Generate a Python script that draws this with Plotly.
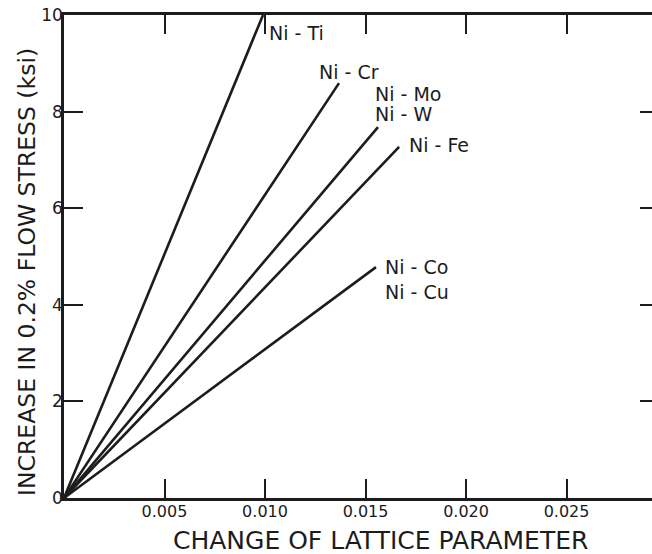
import plotly.graph_objects as go

# Data: each alloy line starts at origin and ends at (x_end, y_end)
alloys = ["Ni-Ti", "Ni-Cr", "Ni-Mo/W", "Ni-Fe", "Ni-Co/Cu"]
x_start = [0.0, 0.0, 0.0, 0.0, 0.0]
y_start = [0.0, 0.0, 0.0, 0.0, 0.0]
x_end = [0.0099, 0.01368, 0.01562, 0.01667, 0.01552]
y_end = [10.0, 8.59, 7.68, 7.27, 4.78]

label_text = ["Ni-Ti", "Ni-Cr", "Ni-Mo", "Ni-W", "Ni-Fe", "Ni-Co", "Ni-Cu"]
label_x = [0.0101, 0.01259, 0.01537, 0.01537, 0.01706, 0.01587, 0.01587]
label_y = [9.63, 8.82, 8.36, 7.95, 7.31, 4.78, 4.27]

x_ticks = [0.005, 0.010, 0.015, 0.020, 0.025]
x_tick_text = ["0.005", "0.010", "0.015", "0.020", "0.025"]
y_ticks = [0, 2, 4, 6, 8, 10]

x_title = "CHANGE OF LATTICE PARAMETER"
y_title = "INCREASE IN 0.2% FLOW STRESS (ksi)"

ink = "#1c1c1c"
font_family = "DejaVu Sans, Liberation Sans, sans-serif"

fig = go.Figure()
for name, x0, y0, x1, y1 in zip(alloys, x_start, y_start, x_end, y_end):
    fig.add_trace(go.Scatter(x=[x0, x1], y=[y0, y1], mode="lines",
                             line=dict(color=ink, width=2.6), name=name,
                             showlegend=False, hoverinfo="skip"))

# invisible trace for right axis ticks
fig.add_trace(go.Scatter(x=[0], y=[0], yaxis="y2", mode="markers",
                         marker=dict(opacity=0), showlegend=False, hoverinfo="skip"))

for t, x, y in zip(label_text, label_x, label_y):
    fig.add_annotation(x=x, y=y, text=t.replace("-", " - "), showarrow=False,
                       xanchor="left", yanchor="middle",
                       font=dict(family=font_family, size=19, color=ink))

# axis titles as annotations for exact placement
fig.add_annotation(xref="paper", yref="paper", x=0.538, y=-0.087,
                   text=x_title, showarrow=False, xanchor="center", yanchor="middle",
                   font=dict(family=font_family, size=25, color=ink))
fig.add_annotation(xref="paper", yref="paper", x=-0.063, y=0.468,
                   text=y_title, showarrow=False, textangle=-90,
                   xanchor="center", yanchor="middle",
                   font=dict(family=font_family, size=23.5, color=ink))

fig.update_layout(
    width=652, height=554,
    margin=dict(l=64, r=0, t=15, b=56),
    paper_bgcolor="white", plot_bgcolor="white",
    font=dict(family=font_family, color=ink),
    xaxis=dict(range=[0, 0.02925], tickvals=x_ticks, ticktext=x_tick_text,
               automargin=False, ticklabeloverflow="allow",
               showgrid=False, zeroline=False, showline=True, linecolor=ink,
               linewidth=2.5, mirror="ticks", ticks="inside", ticklen=19,
               tickwidth=1.5, tickcolor=ink, ticklabelstandoff=-3,
               tickfont=dict(size=16, color=ink)),
    yaxis=dict(range=[0, 10], tickvals=y_ticks, showgrid=False, zeroline=False,
               automargin=False, ticklabeloverflow="allow",
               showline=True, linecolor=ink, linewidth=2.5, ticks="inside",
               ticklen=19, tickwidth=1.5, tickcolor=ink, ticklabelstandoff=-5,
               tickfont=dict(size=17, color=ink)),
    yaxis2=dict(range=[0, 10], tickvals=y_ticks, overlaying="y", side="right",
                automargin=False,
                showgrid=False, zeroline=False, showline=False, ticks="inside",
                ticklen=12, tickwidth=1.5, tickcolor=ink, showticklabels=False),
)

# remove the default page margin so the figure sits at the window's top-left
fig.write_html("out.html", config={"displayModeBar": False},
               post_script="document.body.style.margin='0';document.body.style.overflow='hidden';")
